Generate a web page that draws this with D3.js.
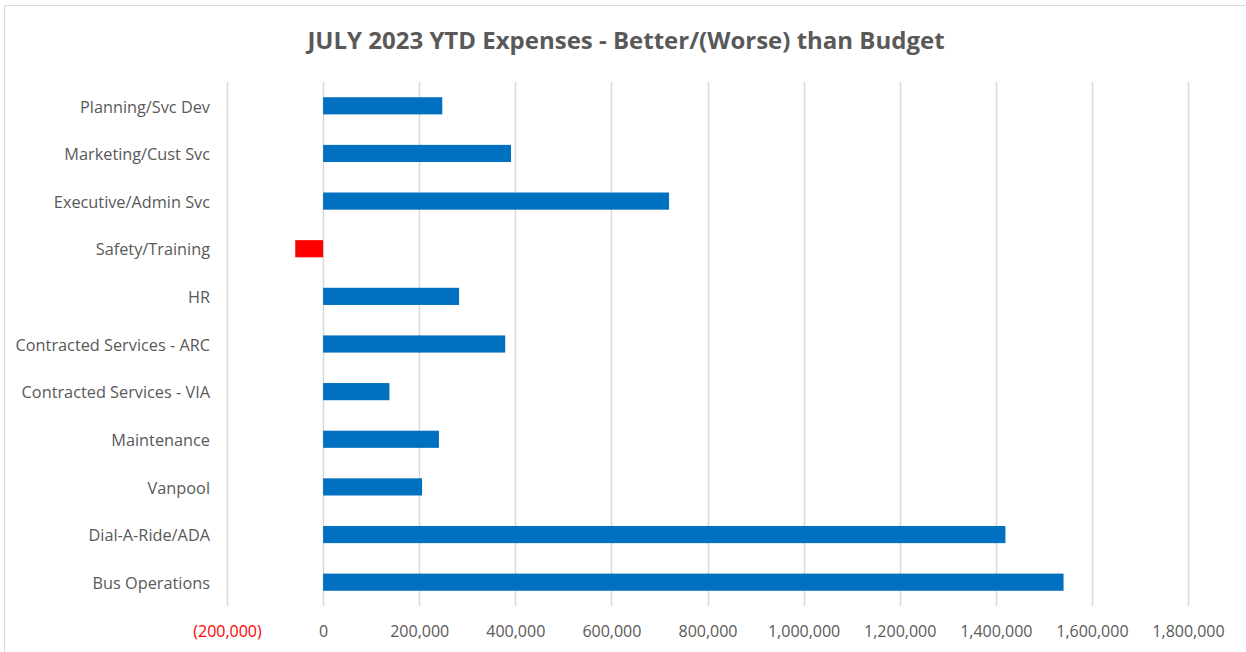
<!DOCTYPE html>
<html>
<head>
<meta charset="utf-8">
<script src="https://cdn.jsdelivr.net/npm/d3@7"></script>
<style>
  html, body { margin: 0; padding: 0; background: #fff; }
  svg { display: block; }
</style>
</head>
<body>
<svg id="chart" width="1246" height="652"></svg>
<script>
// Department names, top to bottom
const categories = [
  "Planning/Svc Dev",
  "Marketing/Cust Svc",
  "Executive/Admin Svc",
  "Safety/Training",
  "HR",
  "Contracted Services - ARC",
  "Contracted Services - VIA",
  "Maintenance",
  "Vanpool",
  "Dial-A-Ride/ADA",
  "Bus Operations"
];
// YTD variance vs budget (positive = better)
const variance = [248000, 391000, 720000, -58000, 283000, 379000, 138000, 241000, 206000, 1420000, 1541000];
// Axis tick values
const tickValues = [-200000, 0, 200000, 400000, 600000, 800000, 1000000, 1200000, 1400000, 1600000, 1800000];

const svg = d3.select("#chart");
const W = 1246, H = 652;
const font = "'Open Sans', 'Liberation Sans', sans-serif";

// chart frame
svg.append("rect")
  .attr("x", 4.5).attr("y", 5.5)
  .attr("width", W - 4).attr("height", H - 4)
  .attr("fill", "#fff").attr("stroke", "#d9d9d9").attr("stroke-width", 1);

const plot = { left: 227, right: 1188, top: 82, bottom: 606 };

const x = d3.scaleLinear()
  .domain([-200000, 1800000])
  .range([plot.left, plot.right]);

const y = d3.scaleBand()
  .domain(categories)
  .range([plot.top, plot.bottom])
  .paddingInner(0.64)
  .paddingOuter(0.32);

// vertical gridlines
svg.append("g")
  .selectAll("line")
  .data(tickValues)
  .join("line")
  .attr("x1", d => Math.round(x(d)) + 0.5)
  .attr("x2", d => Math.round(x(d)) + 0.5)
  .attr("y1", plot.top)
  .attr("y2", plot.bottom)
  .attr("stroke", "#d9d9d9")
  .attr("stroke-width", 1.5);

// bars
svg.append("g")
  .selectAll("rect")
  .data(categories.map((c, i) => ({ c, v: variance[i] })))
  .join("rect")
  .attr("x", d => x(Math.min(0, d.v)))
  .attr("width", d => Math.abs(x(d.v) - x(0)))
  .attr("y", d => y(d.c))
  .attr("height", y.bandwidth())
  .attr("fill", d => d.v < 0 ? "#ff0000" : "#0070c0");

// x axis labels
const fmt = d => d < 0 ? "(" + d3.format(",")(-d) + ")" : d3.format(",")(d);
const xAxis = d3.axisBottom(x)
  .tickValues(tickValues)
  .tickFormat(fmt)
  .tickSize(0)
  .tickPadding(0);
const gx = svg.append("g")
  .attr("transform", `translate(0,${plot.bottom + 20})`)
  .call(xAxis);
gx.select(".domain").remove();
gx.selectAll("text")
  .attr("font-family", font)
  .attr("font-size", 16)
  .attr("fill", d => d < 0 ? "#ff0000" : "#595959");

// category labels
const yAxis = d3.axisLeft(y).tickSize(0).tickPadding(0);
const gy = svg.append("g")
  .attr("transform", "translate(210,1.5)")
  .call(yAxis);
gy.select(".domain").remove();
gy.selectAll("text")
  .attr("font-family", font)
  .attr("font-size", 16.3)
  .attr("fill", "#595959");

// title
svg.append("text")
  .attr("x", 626)
  .attr("y", 49)
  .attr("text-anchor", "middle")
  .attr("font-family", font)
  .attr("font-size", 24)
  .attr("font-weight", "bold")
  .attr("fill", "#595959")
  .text("JULY 2023 YTD Expenses - Better/(Worse) than Budget");
</script>
</body>
</html>
